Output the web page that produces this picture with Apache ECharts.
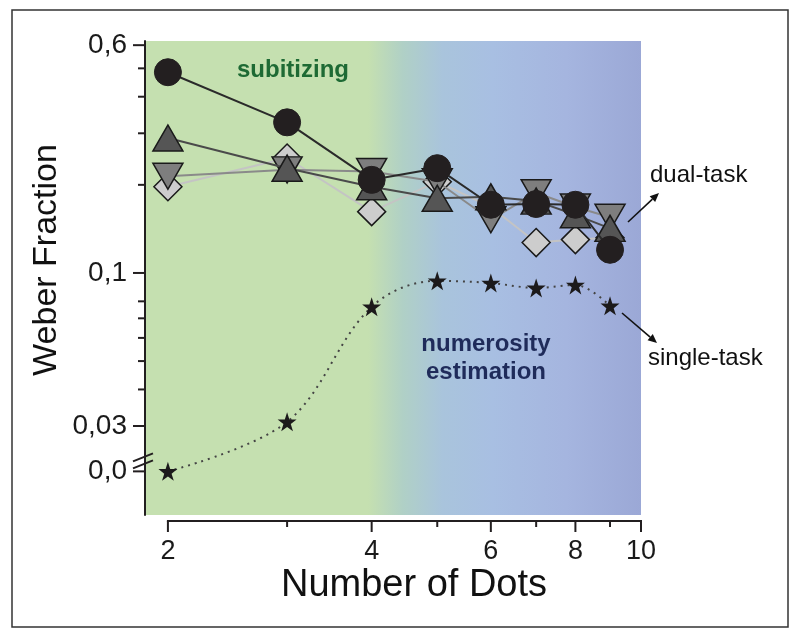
<!DOCTYPE html>
<html>
<head>
<meta charset="utf-8">
<script src="https://cdn.jsdelivr.net/npm/echarts@6/dist/echarts.min.js"></script>
<style>
html,body{margin:0;padding:0;background:#fff;}
#chart{width:800px;height:639px;}
</style>
</head>
<body>
<div id="chart"></div>
<script>
// ---- data ----
const dots = [2, 3, 4, 5, 6, 7, 8, 9];
const dualCircle   = [0.485, 0.327, 0.208, 0.228, 0.171, 0.172, 0.171, 0.120];
const dualTriUp    = [0.289, 0.228, 0.197, 0.180, 0.182, 0.176, 0.158, 0.142];
const dualTriDown  = [0.214, 0.225, 0.222, 0.205, 0.152, 0.188, 0.168, 0.155];
const dualDiamond  = [0.197, 0.247, 0.162, 0.205, 0.168, 0.127, 0.130, 0.132];
const singleTask   = [0.0, 0.031, 0.0766, 0.094, 0.0924, 0.0889, 0.091, 0.0772];

const yMajorTicks = [0.6, 0.1, 0.03];
const yMajorLabels = ['0,6', '0,1', '0,03'];
const yMinorTicks = [0.5, 0.4, 0.3, 0.2, 0.08, 0.07, 0.06, 0.05, 0.04];
const xMajorTicks = [2, 4, 6, 8, 10];
const xMajorLabels = ['2', '4', '6', '8', '10'];
const xMinorTicks = [3, 5, 7, 9];
const zeroLabel = '0,0';

// axis layout (broken axis: value 0 is drawn at ZERO_POS)
const X_MIN = 1.85, X_MAX = 10;
const Y_MIN = 0.0149, Y_MAX = 0.62;
const ZERO_POS = 0.021;
const mapZero = v => (v === 0 ? ZERO_POS : v);

const FONT = "'Liberation Sans', Arial, Helvetica, sans-serif";
const AX = '#231f20';

function pairs(ys) { return dots.map((d, i) => [d, mapZero(ys[i])]); }

const starPath = 'path://M50,0 L61.8,35.1 L98.9,35.1 L68.9,57.4 L80.3,92.7 L50,71 L19.7,92.7 L31.1,57.4 L1.1,35.1 L38.2,35.1 Z';

const yTickItems = [];
yMajorTicks.forEach((v, i) => yTickItems.push({v: v, label: yMajorLabels[i], major: true}));
yMinorTicks.forEach(v => yTickItems.push({v: v, label: '', major: false}));
yTickItems.push({v: 0, label: zeroLabel, major: true, brk: true});

const xTickItems = [];
xMajorTicks.forEach((v, i) => xTickItems.push({v: v, label: xMajorLabels[i], major: true}));
xMinorTicks.forEach(v => xTickItems.push({v: v, label: '', major: false}));

function yTickRender(params, api) {
  const it = yTickItems[params.dataIndex];
  const p = api.coord([X_MIN, mapZero(it.v)]);
  const len = it.major ? 12 : 7;
  const children = [{
    type: 'line',
    shape: {x1: p[0] - len, y1: p[1], x2: p[0], y2: p[1]},
    style: {stroke: AX, lineWidth: 2}
  }];
  if (it.label) {
    children.push({
      type: 'text',
      style: {text: it.label, x: p[0] - 18, y: p[1], textAlign: 'right', textVerticalAlign: 'middle',
              font: '28px ' + FONT, fill: '#1a1a1a'}
    });
  }
  if (it.brk) {
    children.push({type: 'line', shape: {x1: p[0] - 12, y1: p[1] - 10, x2: p[0] + 8, y2: p[1] - 18},
                   style: {stroke: AX, lineWidth: 2}});
    children.push({type: 'line', shape: {x1: p[0] - 12, y1: p[1] - 3, x2: p[0] + 8, y2: p[1] - 11},
                   style: {stroke: AX, lineWidth: 2}});
  }
  return {type: 'group', children: children};
}

function xTickRender(params, api) {
  const it = xTickItems[params.dataIndex];
  const p = api.coord([it.v, Y_MIN]);
  const base = p[1] + 6;
  const len = it.major ? 11 : 6;
  const children = [{
    type: 'line',
    shape: {x1: p[0], y1: base, x2: p[0], y2: base + len},
    style: {stroke: AX, lineWidth: 2}
  }];
  if (params.dataIndex === 0) {
    const a = api.coord([xMajorTicks[0], Y_MIN]);
    const b = api.coord([xMajorTicks[xMajorTicks.length - 1], Y_MIN]);
    children.push({type: 'line', shape: {x1: a[0] - 1, y1: base, x2: b[0] + 1, y2: base},
                   style: {stroke: AX, lineWidth: 2}});
  }
  if (it.label) {
    children.push({
      type: 'text',
      style: {text: it.label, x: p[0], y: base + 31, textAlign: 'center', textVerticalAlign: 'middle',
              font: '27px ' + FONT, fill: '#1a1a1a'}
    });
  }
  return {type: 'group', children: children};
}

function arrow(x1, y1, x2, y2) {
  const ang = Math.atan2(y2 - y1, x2 - x1);
  const hl = 9, hw = 4;
  const bx = x2 - hl * Math.cos(ang), by = y2 - hl * Math.sin(ang);
  const px = -Math.sin(ang) * hw, py = Math.cos(ang) * hw;
  return [
    {type: 'line', shape: {x1: x1, y1: y1, x2: bx, y2: by}, style: {stroke: '#111', lineWidth: 1.6}},
    {type: 'polygon', shape: {points: [[x2, y2], [bx + px, by + py], [bx - px, by - py]]}, style: {fill: '#111'}}
  ];
}

const chart = echarts.init(document.getElementById('chart'), null, {renderer: 'canvas'});

const lineSeries = (name, data, symbol, size, rotate, fill, lineColor, z) => ({
  name: name, type: 'line', data: pairs(data), symbol: symbol, symbolSize: size, symbolRotate: rotate,
  itemStyle: {color: fill, borderColor: '#1a1a1a', borderWidth: 1.5},
  lineStyle: {color: lineColor, width: 2},
  z: z, animation: false, clip: false
});

chart.setOption({
  animation: false,
  grid: {
    left: 145, right: 159, top: 41, bottom: 124, show: true, borderWidth: 0,
    backgroundColor: {
      type: 'linear', x: 0, y: 0, x2: 1, y2: 0,
      colorStops: [
        {offset: 0, color: '#c5e0b0'},
        {offset: 0.45, color: '#c5e0b0'},
        {offset: 0.52, color: '#b0d0c6'},
        {offset: 0.6, color: '#a9c4dc'},
        {offset: 0.7, color: '#a8bfe2'},
        {offset: 0.85, color: '#a5b5df'},
        {offset: 1, color: '#9ba8d6'}
      ]
    }
  },
  xAxis: {
    type: 'log', logBase: 10, min: X_MIN, max: X_MAX,
    axisLine: {show: false}, axisTick: {show: false}, axisLabel: {show: false}, splitLine: {show: false}
  },
  yAxis: {
    type: 'log', logBase: 10, min: Y_MIN, max: Y_MAX,
    axisLine: {show: true, lineStyle: {color: AX, width: 2}},
    axisTick: {show: false}, axisLabel: {show: false}, splitLine: {show: false}
  },
  series: [
    lineSeries('diamond', dualDiamond, 'diamond', [28, 28], 0, '#cdcdcd', '#c4c4c4', 2),
    lineSeries('triDown', dualTriDown, 'triangle', [30, 26], 180, '#7e7e7e', '#8a8a8a', 3),
    lineSeries('triUp', dualTriUp, 'triangle', [30, 26], 0, '#555555', '#4a4a4a', 4),
    Object.assign(lineSeries('circle', dualCircle, 'circle', 27, 0, '#231f20', '#2a2a2a', 5),
                  {itemStyle: {color: '#231f20', borderColor: '#231f20', borderWidth: 1}}),
    {
      name: 'single-task', type: 'line', data: pairs(singleTask), symbol: starPath, symbolSize: 19,
      smooth: 0.35, itemStyle: {color: '#1c1a1b'},
      lineStyle: {color: '#444', width: 2, type: [2, 5]}, z: 6, clip: false
    },
    {
      type: 'custom', renderItem: yTickRender, data: yTickItems.map(it => [X_MIN, mapZero(it.v)]),
      clip: false, silent: true, z: 10
    },
    {
      type: 'custom', renderItem: xTickRender, data: xTickItems.map(it => [it.v, Y_MIN]),
      clip: false, silent: true, z: 10
    }
  ],
  graphic: [
    {type: 'rect', shape: {x: 12, y: 10, width: 776, height: 617},
     style: {fill: 'none', stroke: '#333', lineWidth: 1.5}, z: 0},
    {type: 'text', style: {text: 'subitizing', x: 293, y: 70, textAlign: 'center', textVerticalAlign: 'middle',
      font: 'bold 24px ' + FONT, fill: '#1e6a34'}, z: 20},
    {type: 'text', style: {text: 'numerosity', x: 486, y: 344, textAlign: 'center', textVerticalAlign: 'middle',
      font: 'bold 24px ' + FONT, fill: '#1f2b5a'}, z: 20},
    {type: 'text', style: {text: 'estimation', x: 486, y: 372, textAlign: 'center', textVerticalAlign: 'middle',
      font: 'bold 24px ' + FONT, fill: '#1f2b5a'}, z: 20},
    {type: 'text', style: {text: 'dual-task', x: 650, y: 175, textAlign: 'left', textVerticalAlign: 'middle',
      font: '24px ' + FONT, fill: '#111'}, z: 20},
    {type: 'text', style: {text: 'single-task', x: 648, y: 358, textAlign: 'left', textVerticalAlign: 'middle',
      font: '24px ' + FONT, fill: '#111'}, z: 20},
    {type: 'text', rotation: Math.PI / 2, x: 47, y: 260,
     style: {text: 'Weber Fraction', x: 0, y: 0, textAlign: 'center', textVerticalAlign: 'middle',
      font: '34px ' + FONT, fill: '#111'}, z: 20},
    {type: 'text', style: {text: 'Number of Dots', x: 414, y: 586, textAlign: 'center', textVerticalAlign: 'middle',
      font: '38px ' + FONT, fill: '#111'}, z: 20},
    {type: 'group', children: arrow(628, 222, 659, 193), z: 20},
    {type: 'group', children: arrow(622, 313, 657, 343), z: 20}
  ]
});
</script>
</body>
</html>
